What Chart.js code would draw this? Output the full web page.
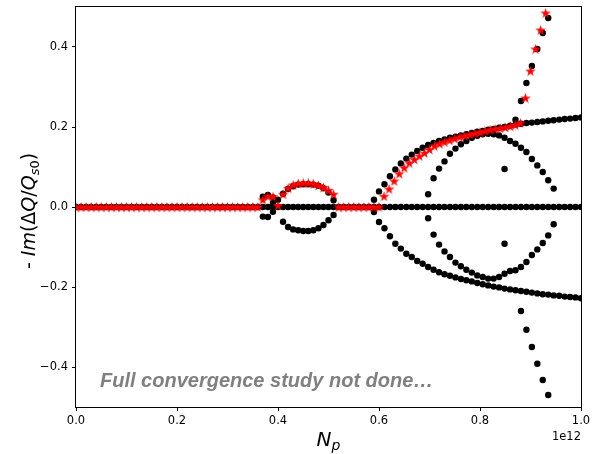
<!DOCTYPE html>
<html>
<head>
<meta charset="utf-8">
<script src="https://cdn.jsdelivr.net/npm/chart.js@4.4.1/dist/chart.umd.min.js"></script>
<style>
  html, body { margin: 0; padding: 0; background: #fff; }
</style>
</head>
<body>
<canvas id="stabilityChart" width="596" height="454"></canvas>
<script>
// Np scan points, in units of 1e12 (fine scan up to 0.93, coarser scan from 0.6 to 1.0)
const npFine = [
    0.00, 0.01, 0.02, 0.03, 0.04, 0.05, 0.06, 0.07, 0.08, 0.09,
    0.10, 0.11, 0.12, 0.13, 0.14, 0.15, 0.16, 0.17, 0.18, 0.19,
    0.20, 0.21, 0.22, 0.23, 0.24, 0.25, 0.26, 0.27, 0.28, 0.29,
    0.30, 0.31, 0.32, 0.33, 0.34, 0.35, 0.36, 0.37, 0.38, 0.39,
    0.40, 0.41, 0.42, 0.43, 0.44, 0.45, 0.46, 0.47, 0.48, 0.49,
    0.50, 0.51, 0.52, 0.53, 0.54, 0.55, 0.56, 0.57, 0.58, 0.59,
    0.60, 0.61, 0.62, 0.63, 0.64, 0.65, 0.66, 0.67, 0.68, 0.69,
    0.70, 0.71, 0.72, 0.73, 0.74, 0.75, 0.76, 0.77, 0.78, 0.79,
    0.80, 0.81, 0.82, 0.83, 0.84, 0.85, 0.86, 0.87, 0.88, 0.89,
    0.90, 0.91, 0.92, 0.93
];
const npWide = [
    0.6000, 0.6108, 0.6216, 0.6324, 0.6432, 0.6541, 0.6649, 0.6757, 0.6865, 0.6973,
    0.7081, 0.7189, 0.7297, 0.7405, 0.7514, 0.7622, 0.7730, 0.7838, 0.7946, 0.8054,
    0.8162, 0.8270, 0.8378, 0.8486, 0.8595, 0.8703, 0.8811, 0.8919, 0.9027, 0.9135,
    0.9243, 0.9351, 0.9459, 0.9568, 0.9676, 0.9784, 0.9892, 1.0000
];

// -Im(dQ/Qs0) of the most unstable mode (red stars), one value per npFine point
const starIm = [
    0, 0, 0, 0, 0, 0, 0, 0, 0, 0,
    0, 0, 0, 0, 0, 0, 0, 0, 0, 0,
    0, 0, 0, 0, 0, 0, 0, 0, 0, 0,
    0, 0, 0, 0, 0, 0, 0, 0.018, 0.027, 0.026,
    0.004, 0.032, 0.047, 0.055, 0.059, 0.060, 0.060, 0.058, 0.054, 0.049,
    0.042, 0.032, 0, 0, 0, 0, 0, 0, 0, 0,
    0, 0.027, 0.045, 0.065, 0.083, 0.098, 0.110, 0.119, 0.1275, 0.135,
    0.144, 0.1525, 0.158, 0.1625, 0.167, 0.171, 0.175, 0.178, 0.181, 0.184,
    0.187, 0.190, 0.193, 0.195, 0.197, 0.199, 0.202, 0.205, 0.210, 0.2725,
    0.340, 0.395, 0.4425, 0.485
];

// all modes (black dots), branch by branch
const smallLoopUpper = [0.026, 0.030, 0.024];          // npFine from 0.37
const smallLoopLower = [-0.024, -0.025];               // npFine from 0.37
const arcUpper = [0.018, 0.033, 0.045, 0.052, 0.056, 0.057, 0.057, 0.056, 0.053, 0.047, 0.036, 0.017]; // from 0.40
const arcLower = [-0.037, -0.050, -0.056, -0.058, -0.060, -0.060, -0.058, -0.053, -0.045, -0.033, -0.020]; // from 0.41
const outerUpper = [
    0.039, 0.057, 0.077, 0.094, 0.109, 0.121, 0.131, 0.140, 0.148, 0.155,
    0.160, 0.165, 0.169, 0.173, 0.176, 0.179, 0.182, 0.185, 0.188, 0.190,
    0.193, 0.195, 0.198, 0.200, 0.203, 0.206, 0.208, 0.210, 0.211, 0.2125,
    0.214, 0.2155, 0.217, 0.2185, 0.220, 0.221, 0.2225, 0.224
];
const outerLower = [
    -0.0375, -0.053, -0.073, -0.092, -0.104, -0.117, -0.125, -0.135, -0.142, -0.150,
    -0.157, -0.163, -0.168, -0.172, -0.176, -0.180, -0.183, -0.186, -0.190, -0.193,
    -0.196, -0.199, -0.201, -0.204, -0.206, -0.208, -0.210, -0.212, -0.214, -0.216,
    -0.218, -0.219, -0.221, -0.222, -0.224, -0.225, -0.226, -0.228
];
const innerUpper = [
    0.032, 0.072, 0.096, 0.114, 0.133, 0.146, 0.157, 0.165, 0.173, 0.178,
    0.182, 0.183, 0.182, 0.179, 0.173, 0.165, 0.158, 0.148, 0.1375, 0.120,
    0.104, 0.0875, 0.067, 0.046
];                                                      // npWide from index 9
const innerLower = [
    -0.028, -0.069, -0.094, -0.111, -0.125, -0.139, -0.148, -0.157, -0.164, -0.171,
    -0.175, -0.179, -0.179, -0.175, -0.167, -0.160, -0.158, -0.150, -0.1375, -0.120,
    -0.106, -0.090, -0.071, -0.043
];                                                      // npWide from index 9
const risingBranch = [0.218, 0.265, 0.310, 0.3525, 0.395, 0.435, 0.4725];   // npWide from 25
const fallingBranch = [-0.260, -0.307, -0.350, -0.392, -0.4325, -0.470];    // npWide from 26
const strayNp = [0.39, 0.39, 0.59, 0.59, 0.8486, 0.8486];
const strayIm = [0.010, -0.012, 0.018, -0.0125, 0.095, -0.092];

const xTickValues = [0, 0.2, 0.4, 0.6, 0.8, 1.0];
const yTickValues = [-0.4, -0.2, 0, 0.2, 0.4];

function branch(grid, start, values) {
    return values.map((im, i) => ({ x: grid[start + i], y: im }));
}

const blackPoints = [
    ...npFine.slice(0, 60).map(np => ({ x: np, y: 0 })),
    ...npWide.map(np => ({ x: np, y: 0 })),
    ...branch(npFine, 37, smallLoopUpper),
    ...branch(npFine, 37, smallLoopLower),
    ...branch(npFine, 40, arcUpper),
    ...branch(npFine, 41, arcLower),
    ...branch(npWide, 0, outerUpper),
    ...branch(npWide, 0, outerLower),
    ...branch(npWide, 9, innerUpper),
    ...branch(npWide, 9, innerLower),
    ...branch(npWide, 25, risingBranch),
    ...branch(npWide, 26, fallingBranch),
    ...strayNp.map((np, i) => ({ x: np, y: strayIm[i] }))
];
const starPoints = branch(npFine, 0, starIm);

// filled five-point star, like matplotlib's '*' marker
function makeStar(size, color) {
    const c = document.createElement('canvas');
    c.width = c.height = size;
    const ctx = c.getContext('2d');
    const r = size / 2, ri = r * 0.382;
    ctx.beginPath();
    for (let i = 0; i < 10; i++) {
        const a = -Math.PI / 2 + i * Math.PI / 5;
        const rad = i % 2 === 0 ? r : ri;
        ctx.lineTo(r + rad * Math.cos(a), r + 0.5 + rad * Math.sin(a));
    }
    ctx.closePath();
    ctx.fillStyle = color;
    ctx.fill();
    return c;
}

const decorations = {
    id: 'decorations',
    afterDraw(chart) {
        const { ctx, chartArea: a } = chart;
        ctx.save();
        // axes box
        ctx.strokeStyle = '#000';
        ctx.lineWidth = 1;
        ctx.strokeRect(a.left - 0.5, a.top - 0.5, a.right - a.left + 1, a.bottom - a.top + 1);

        // x axis title N_p
        ctx.fillStyle = '#000';
        ctx.textBaseline = 'alphabetic';
        ctx.textAlign = 'left';
        ctx.font = 'italic 20px "DejaVu Sans"';
        const wN = ctx.measureText('N').width;
        ctx.font = 'italic 14px "DejaVu Sans"';
        const wp = ctx.measureText('p').width;
        let x0 = (a.left + a.right) / 2 - (wN + wp) / 2;
        ctx.font = 'italic 20px "DejaVu Sans"';
        ctx.fillText('N', x0, 446);
        ctx.font = 'italic 14px "DejaVu Sans"';
        ctx.fillText('p', x0 + wN, 450);

        // y axis title - Im(ΔQ/Q_s0)
        const parts = [
            { t: '- ', f: '19px "DejaVu Sans"', dy: 0 },
            { t: 'Im', f: 'italic 19px "DejaVu Sans"', dy: 0 },
            { t: '(\u0394', f: '19px "DejaVu Sans"', dy: 0 },
            { t: 'Q', f: 'italic 19px "DejaVu Sans"', dy: 0 },
            { t: '/', f: '19px "DejaVu Sans"', dy: 0 },
            { t: 'Q', f: 'italic 19px "DejaVu Sans"', dy: 0 },
            { t: 's', f: 'italic 13px "DejaVu Sans"', dy: 4 },
            { t: '0', f: '13px "DejaVu Sans"', dy: 4 },
            { t: ')', f: '19px "DejaVu Sans"', dy: 0 }
        ];
        let total = 0;
        parts.forEach(p => { ctx.font = p.f; p.w = ctx.measureText(p.t).width; total += p.w; });
        ctx.translate(35, (a.top + a.bottom) / 2 + 4);
        ctx.rotate(-Math.PI / 2);
        let px = -total / 2;
        parts.forEach(p => { ctx.font = p.f; ctx.fillText(p.t, px, p.dy); px += p.w; });
        ctx.setTransform(1, 0, 0, 1, 0, 0);

        // scale offset
        ctx.font = '11.5px "DejaVu Sans"';
        ctx.textAlign = 'right';
        ctx.fillText('1e12', a.right, 440);

        // note
        ctx.textAlign = 'left';
        ctx.fillStyle = '#808080';
        ctx.font = 'italic bold 20px "Liberation Sans"';
        ctx.fillText('Full convergence study not done\u2026', 100, 387);
        ctx.restore();
    }
};

Chart.defaults.font.family = '"DejaVu Sans"';

new Chart(document.getElementById('stabilityChart'), {
    type: 'scatter',
    data: {
        datasets: [
            {
                label: 'most unstable',
                data: starPoints,
                pointStyle: makeStar(11, '#ff0000'),
                order: 0
            },
            {
                label: 'all modes',
                data: blackPoints,
                pointStyle: 'circle',
                pointRadius: 3.2,
                pointBackgroundColor: '#000',
                pointBorderWidth: 0,
                order: 1
            }
        ]
    },
    options: {
        responsive: false,
        animation: false,
        events: [],
        layout: { padding: { top: 7, right: 15, left: 0, bottom: 0 } },
        plugins: {
            legend: { display: false },
            tooltip: { enabled: false }
        },
        scales: {
            x: {
                type: 'linear',
                min: 0,
                max: 1,
                afterBuildTicks: axis => { axis.ticks = xTickValues.map(value => ({ value })); },
                afterFit: scale => {
                    scale.height = 47;
                    scale.paddingLeft = 0;
                    scale.paddingRight = 0;
                },
                ticks: {
                    callback: v => v.toFixed(1),
                    color: '#000',
                    font: { size: 11.5 },
                    padding: 3,
                    autoSkip: false,
                    maxRotation: 0
                },
                grid: { drawOnChartArea: false, drawTicks: true, tickLength: 4, color: '#000' },
                border: { display: false }
            },
            y: {
                type: 'linear',
                min: -0.5,
                max: 0.5,
                afterBuildTicks: axis => { axis.ticks = yTickValues.map(value => ({ value })); },
                afterFit: scale => {
                    scale.width = 76;
                    scale.paddingTop = 0;
                    scale.paddingBottom = 0;
                },
                ticks: {
                    callback: v => (v < 0 ? '\u2212' : '') + Math.abs(v).toFixed(1),
                    color: '#000',
                    font: { size: 11.5 },
                    padding: 4,
                    autoSkip: false
                },
                grid: { drawOnChartArea: false, drawTicks: true, tickLength: 4, color: '#000' },
                border: { display: false }
            }
        }
    },
    plugins: [decorations]
});
</script>
</body>
</html>
